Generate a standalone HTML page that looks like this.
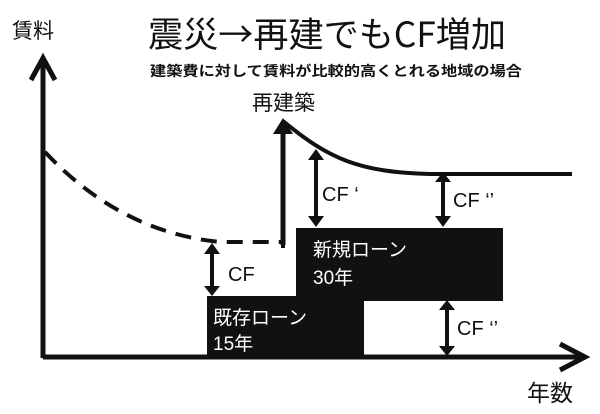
<!DOCTYPE html>
<html><head><meta charset="utf-8"><style>
html,body{margin:0;padding:0;background:#fff;}
svg{display:block}
text{font-family:"Liberation Sans","Noto Sans CJK JP",sans-serif;fill:#111}
</style></head><body>
<svg width="600" height="414" viewBox="0 0 600 414" xmlns="http://www.w3.org/2000/svg">
<text x="12" y="38" font-size="21">賃料</text>
<text x="148" y="47" font-size="35" textLength="358" lengthAdjust="spacingAndGlyphs" style="font-family:'Noto Sans CJK JP',sans-serif">震災→再建でもCF増加</text>
<text x="150" y="76" font-size="14" textLength="372" lengthAdjust="spacingAndGlyphs" style="font-family:'Noto Sans CJK JP',sans-serif;font-weight:bold">建築費に対して賃料が比較的高くとれる地域の場合</text>
<text x="252" y="110" font-size="21">再建築</text>
<text x="527" y="401" font-size="23">年数</text>
<line x1="43" y1="358" x2="43" y2="58" stroke="#111" stroke-width="5"/>
<polyline points="31,80 43,58 55,80" fill="none" stroke="#111" stroke-width="5"/>
<line x1="43" y1="357" x2="585" y2="357" stroke="#111" stroke-width="5"/>
<polyline points="560,344 585,357 560,370" fill="none" stroke="#111" stroke-width="5"/>
<path d="M45,152 Q120,232 220,242 L283,242 L283,248" fill="none" stroke="#111" stroke-width="4" stroke-dasharray="16,10"/>
<rect x="207" y="296" width="157" height="60" fill="#111"/>
<rect x="296" y="228" width="207" height="73" fill="#111"/>
<text x="213" y="324" font-size="19" style="fill:#fff">既存ローン</text>
<text x="213" y="350" font-size="19" style="fill:#fff">15年</text>
<text x="313" y="256" font-size="19" style="fill:#fff">新規ローン</text>
<text x="313" y="284" font-size="19" style="fill:#fff">30年</text>
<line x1="283" y1="245" x2="283" y2="124" stroke="#111" stroke-width="5"/>
<polygon points="273,134 283,118 293,134" fill="#111"/>
<path d="M283,121 C330,160 360,172 430,174 L572,174" fill="none" stroke="#111" stroke-width="4"/>
<g stroke="#111" stroke-width="4">
<line x1="212" y1="252" x2="212" y2="288"/>
<line x1="316" y1="158" x2="316" y2="218"/>
<line x1="443" y1="180" x2="443" y2="218"/>
<line x1="447" y1="308" x2="447" y2="348"/>
</g>
<g fill="#111">
<polygon points="204,254 212,243 220,254"/><polygon points="204,286 212,296 220,286"/>
<polygon points="308,160 316,149 324,160"/><polygon points="308,216 316,227 324,216"/>
<polygon points="435,182 443,172 451,182"/><polygon points="435,216 443,227 451,216"/>
<polygon points="439,310 447,300 455,310"/><polygon points="439,346 447,356 455,346"/>
</g>
<text x="228" y="281" font-size="20">CF</text>
<text x="322" y="201" font-size="20">CF ‘</text>
<text x="453" y="207" font-size="20">CF ‘’</text>
<text x="457" y="335" font-size="20">CF ‘’</text>
</svg>
</body></html>
